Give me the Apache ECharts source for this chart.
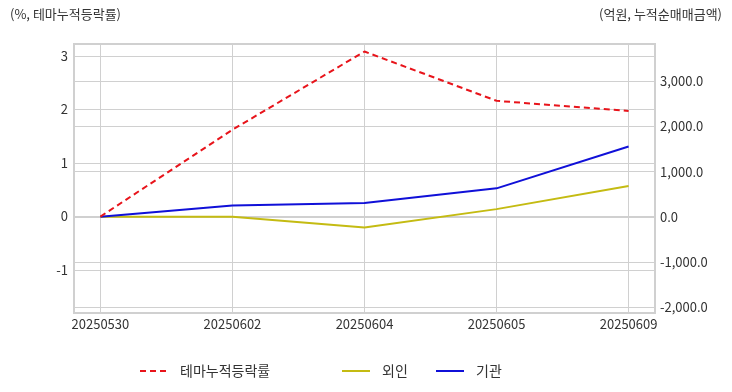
<!DOCTYPE html>
<html><head><meta charset="utf-8">
<script src="https://cdn.jsdelivr.net/npm/echarts@6/dist/echarts.min.js"></script>
<style>html,body{margin:0;padding:0;background:#fff}#c{width:732px;height:392px}</style>
</head><body><div id="c"></div>
<script>
const categories = ['20250530','20250602','20250604','20250605','20250609'];
const themeReturn = [0, 1.62, 3.08, 2.16, 1.97];
const foreign = [0, 0, -236, 171, 682];
const institution = [0, 253, 304, 631, 1556];
const leftTicks = [-1, 0, 1, 2, 3];
const rightTicks = [-2000, -1000, 0, 1000, 2000, 3000];
const xTicks = [0, 1, 2, 3, 4];

const FONT = '"Noto Sans CJK KR", "Noto Sans", sans-serif';
const toXY = arr => arr.map((v, i) => [i, v]);
const fmtNum = v => v.toLocaleString('en-US', {minimumFractionDigits: 1, maximumFractionDigits: 1});
const legendText = {fontSize: 14, color: '#333', fontFamily: FONT, padding: [0, 0, 0, 7]};
const legendBase = {top: 359, itemWidth: 28, itemHeight: 10, itemStyle: {opacity: 0}, textStyle: legendText};

const chart = echarts.init(document.getElementById('c'));
chart.setOption({
  animation: false,
  textStyle: {fontFamily: FONT},
  graphic: [
    {type: 'text', left: 10, top: 8, style: {text: '(%, 테마누적등락률)', fontSize: 13, fill: '#333', fontFamily: FONT}},
    {type: 'text', right: 10, top: 8, style: {text: '(억원, 누적순매매금액)', fontSize: 13, fill: '#333', fontFamily: FONT}}
  ],
  grid: {left: 74, right: 77, top: 44, bottom: 79, show: true, borderColor: '#d0d0d0', borderWidth: 2, backgroundColor: 'transparent'},
  legend: [
    Object.assign({left: 134, data: ['테마누적등락률']}, legendBase),
    Object.assign({left: 336, data: ['외인']}, legendBase),
    Object.assign({left: 430, data: ['기관']}, legendBase)
  ],
  xAxis: {
    type: 'value', min: -0.2, max: 4.2,
    axisLine: {show: false},
    axisTick: {show: false, customValues: xTicks},
    axisLabel: {customValues: xTicks, formatter: v => categories[Math.round(v)] || '', fontSize: 13, color: '#333', margin: 5, fontFamily: FONT},
    splitLine: {show: true, customValues: xTicks, lineStyle: {color: '#d0d0d0', width: 1}}
  },
  yAxis: [
    {type: 'value', min: -1.8, max: 3.22, position: 'left',
     axisLine: {show: false}, axisTick: {show: false, customValues: leftTicks},
     axisLabel: {customValues: leftTicks, fontSize: 13, color: '#333', margin: 6, fontFamily: FONT},
     splitLine: {show: true, customValues: leftTicks, lineStyle: {color: '#d0d0d0'}}},
    {type: 'value', min: -2129, max: 3827, position: 'right',
     axisLine: {show: false}, axisTick: {show: false, customValues: rightTicks},
     axisLabel: {customValues: rightTicks, formatter: fmtNum, fontSize: 13, color: '#333', margin: 5, fontFamily: FONT},
     splitLine: {show: true, customValues: rightTicks, lineStyle: {color: '#d0d0d0'}}}
  ],
  series: [
    {name: '테마누적등락률', type: 'line', yAxisIndex: 0, data: toXY(themeReturn), symbol: 'none',
     lineStyle: {color: '#e8141b', width: 2, type: [6, 4]}, itemStyle: {color: '#e8141b'}, z: 3},
    {name: '외인', type: 'line', yAxisIndex: 1, data: toXY(foreign), symbol: 'none',
     lineStyle: {color: '#c4bb12', width: 2}, itemStyle: {color: '#c4bb12'}, z: 2},
    {name: '기관', type: 'line', yAxisIndex: 1, data: toXY(institution), symbol: 'none',
     lineStyle: {color: '#1010d8', width: 2}, itemStyle: {color: '#1010d8'}, z: 2}
  ]
});
</script></body></html>
